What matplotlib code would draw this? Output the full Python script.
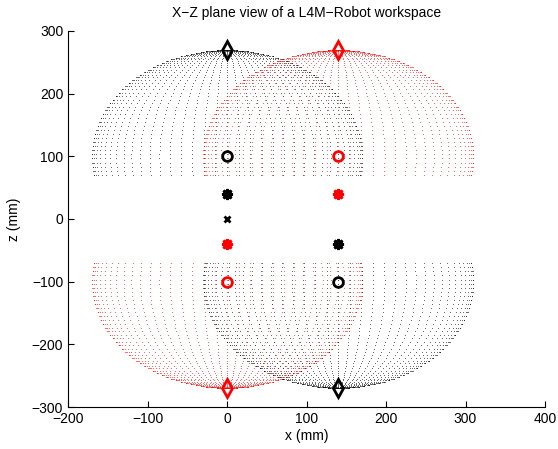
import numpy as np
import matplotlib
matplotlib.use('Agg')
import matplotlib.pyplot as plt

plt.rcParams['font.family'] = ['Liberation Sans', 'DejaVu Sans']
plt.rcParams['font.size'] = 10

# link length from shoulder (circle) to tool tip (diamond), mm
LINK_LEN = 170
# joint sweep used for the workspace (degrees)
PHI_DEG = np.arange(0, 181, 5)
THETA_DEG = np.linspace(0, 100, 46)

# shoulder centres (x, z), direction of reach (+1 up / -1 down), colour
SPHERE_X = [0, 140, 0, 140]
SPHERE_Z = [100, 100, -100, -100]
SPHERE_DIR = [1, 1, -1, -1]
SPHERE_COLOR = ['k', 'r', 'r', 'k']

# joint markers
TIP_X = [0, 140, 0, 140]
TIP_Z = [270, 270, -270, -270]
TIP_COLOR = ['k', 'r', 'r', 'k']
STAR_X = [0, 140, 0, 140]
STAR_Z = [40, 40, -40, -40]
STAR_COLOR = ['k', 'r', 'r', 'k']
BASE_X = [0]
BASE_Z = [0]


def workspace(xc, zc, direction):
    phi = np.radians(PHI_DEG)
    th = np.radians(THETA_DEG)
    T, P = np.meshgrid(th, phi)
    xs = xc + LINK_LEN * np.sin(T) * np.cos(P)
    zs = zc + direction * LINK_LEN * np.cos(T)
    return xs.ravel(), zs.ravel()


fig = plt.figure(figsize=(5.58, 4.49), dpi=100)
ax = fig.add_axes([0.1219, 0.0935, 0.8548, 0.8375])

for xc, zc, d, c in zip(SPHERE_X, SPHERE_Z, SPHERE_DIR, SPHERE_COLOR):
    wx, wz = workspace(xc, zc, d)
    ax.plot(wx, wz, linestyle='none', marker='.', markersize=1.3,
            markeredgewidth=0, color=c, alpha=0.55)

for x, z, c in zip(SPHERE_X, SPHERE_Z, SPHERE_COLOR):
    ax.plot(x, z, marker='o', markersize=7, markerfacecolor='none',
            markeredgecolor=c, markeredgewidth=2)
for x, z, c in zip(TIP_X, TIP_Z, TIP_COLOR):
    ax.plot(x, z, marker='d', markersize=9, markerfacecolor='none',
            markeredgecolor=c, markeredgewidth=2)
for x, z, c in zip(STAR_X, STAR_Z, STAR_COLOR):
    ax.plot(x, z, marker=(8, 2, 0), markersize=8, color=c,
            markeredgewidth=2)
ax.plot(BASE_X, BASE_Z, marker='x', markersize=5, color='k',
        markeredgewidth=2, linestyle='none')

ax.set_xlim(-200, 400)
ax.set_ylim(-300, 300)
ax.set_xticks(np.arange(-200, 401, 100))
ax.set_yticks(np.arange(-300, 301, 100))
ax.spines['top'].set_visible(False)
ax.spines['right'].set_visible(False)
ax.tick_params(direction='in', length=4, labelsize=10)
ax.set_xlabel('x (mm)', labelpad=2)
ax.set_ylabel('z (mm)', labelpad=8)
ax.set_title('X\u2212Z plane view of a L4M\u2212Robot workspace', fontsize=10, pad=10)

fig.savefig('out.png', dpi=100)
